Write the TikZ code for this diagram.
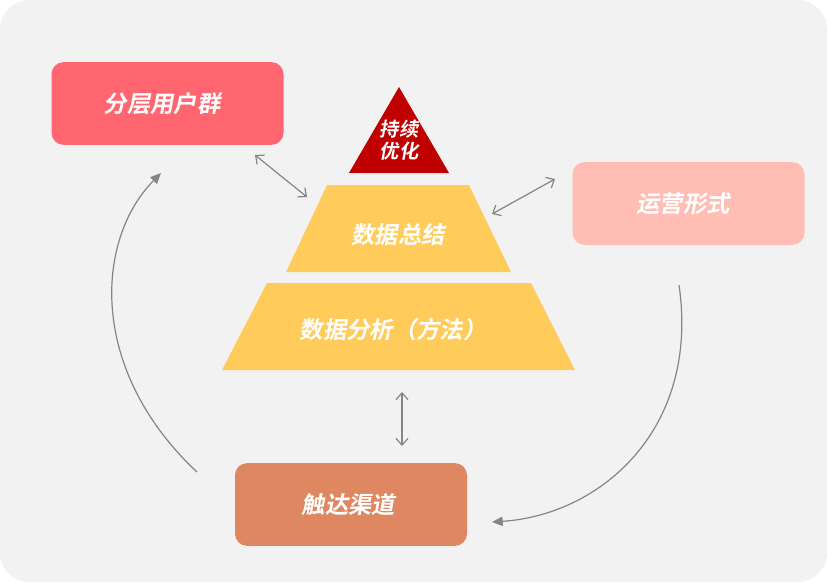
\documentclass[tikz,border=0pt]{standalone}
\usepackage{fontspec}
\newfontfamily\cjk[FakeSlant=0.18,BoldFont={Noto Sans CJK SC Bold},BoldFeatures={FakeSlant=0.18}]{Noto Sans CJK SC}
\usetikzlibrary{arrows.meta}
\definecolor{bgc}{HTML}{F2F2F2}
\definecolor{redbox}{HTML}{FF6670}
\definecolor{pinkbox}{HTML}{FFBDB3}
\definecolor{orangebox}{HTML}{DE8761}
\definecolor{darkred}{HTML}{C00000}
\definecolor{yellowc}{HTML}{FFCC5C}
\definecolor{linec}{HTML}{858585}
\tikzset{
  box/.style={rounded corners=9pt, inner sep=0pt, minimum width=174pt, minimum height=62pt, font=\cjk\bfseries\fontsize{17.5}{19}\selectfont, text=white},
  lbl/.style={font=\cjk\bfseries\fontsize{17.5}{19}\selectfont, text=white, inner sep=0pt},
  dbl/.style={draw=linec, line width=0.9pt, {Straight Barb[length=5pt,width=9pt]}-{Straight Barb[length=5pt,width=9pt]}},
  cyc/.style={draw=linec, line width=0.9pt, -{Triangle[length=8pt,width=7pt]}}
}
\begin{document}
\begin{tikzpicture}[x=0.75pt,y=-0.75pt]
\fill[white] (0,0) rectangle (827,582);
\fill[bgc, rounded corners=22pt] (0,0) rectangle (827,582);
\useasboundingbox (0,0) rectangle (827,582);
% boxes
\node[box, fill=redbox] (users) at (167.5,103.5) {\hspace*{-8pt}分层用户群};
\node[box, fill=pinkbox] (ops) at (688.5,203.5) {\hspace*{-8pt}运营形式};
\node[box, fill=orangebox] (reach) at (351,504.5) {\hspace*{-4pt}触达渠道};
% pyramid
\fill[darkred] (399,87) -- (449,173) -- (349,173) -- cycle;
\fill[yellowc] (327,185) -- (469,185) -- (511,272) -- (286,272) -- cycle;
\fill[yellowc] (267,283) -- (531,283) -- (575,370) -- (222,370) -- cycle;
\node[lbl, align=center, font=\cjk\bfseries\fontsize{14.5}{17}\selectfont] (top) at (399,140) {持续\\优化};
\node[lbl] (sum) at (398,235) {数据总结};
\node[lbl] (ana) at (393,330) {数据分析（方法）};
% coordinates for arrow ends
\coordinate (a1) at (255,155);
\coordinate (a2) at (307,197);
\coordinate (b1) at (492,214);
\coordinate (b2) at (555,179);
\coordinate (c1) at (402,392);
\coordinate (c2) at (402,446);
\draw[dbl] (a1) -- (a2);
\draw[dbl] (b1) -- (b2);
\draw[dbl] (c1) -- (c2);
\coordinate (l1) at (197,472);
\coordinate (l2) at (161,173);
\coordinate (r1) at (679,285);
\coordinate (r2) at (492,522);
\draw[cyc] (l1) .. controls (88,370) and (95,240) .. (l2);
\draw[cyc] (r1) .. controls (700,430) and (600,515) .. (r2);
\end{tikzpicture}
\end{document}
